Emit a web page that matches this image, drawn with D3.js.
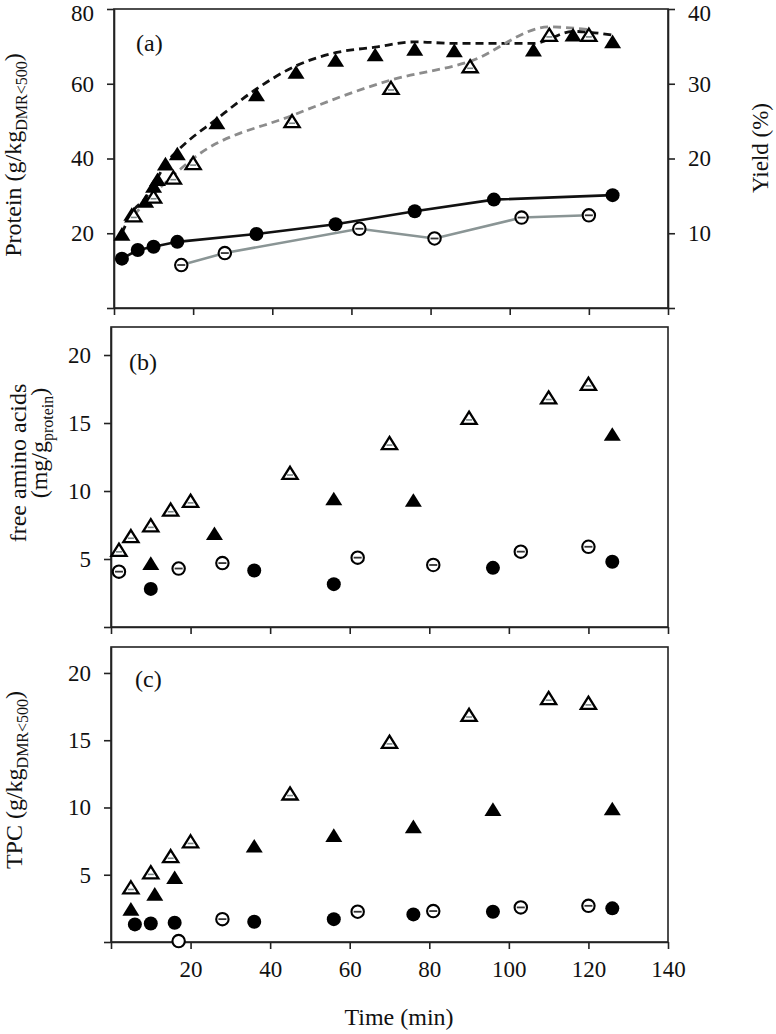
<!DOCTYPE html>
<html><head><meta charset="utf-8">
<script src="https://cdn.jsdelivr.net/npm/d3@7"></script>
<style>
body{margin:0;background:#fff;}
text{font-family:"Liberation Serif","Times New Roman",serif;fill:#111;}
</style></head><body>
<svg id="c" width="776" height="1034"></svg>
<script>
// ---------- DATA ----------
const xTicks = [0, 20, 40, 60, 80, 100, 120, 140];
const xTickLabels = ["", "20", "40", "60", "80", "100", "120", "140"];

// Panel (a) - protein (left axis) / yield
const aTriFilledT = [2, 4.5, 8, 10, 11, 13, 16, 26, 36, 46, 56, 66, 76, 86, 106, 116, 126];
const aTriFilledV = [19.5, 24.8, 28.3, 32.3, 34.1, 38.3, 41, 49.3, 56.8, 62.8, 66, 67.5, 69, 68.6, 68.8, 72.8, 71];
const aFitBlackV  = [20, 25.5, 29.5, 33, 34.8, 38.5, 42, 50.6, 58.6, 64.8, 68.3, 69.8, 71.2, 70.8, 70.8, 74, 73];
const aTriOpenT = [5, 10, 15, 20, 45, 70, 90, 110, 120];
const aTriOpenV = [24.5, 29.5, 34.6, 38.5, 49.7, 58.6, 64.4, 72.8, 72.8];
const aFitGreyV = [24.8, 30.5, 35.5, 40, 51.5, 61, 66, 75.2, 74.5];
const aCircFilledT = [2, 6, 10, 16, 36, 56, 76, 96, 126];
const aCircFilledV = [13.2, 15.5, 16.4, 17.7, 19.8, 22.4, 25.9, 29, 30.2];
const aCircOpenT = [17, 28, 62, 81, 103, 120];
const aCircOpenV = [11.5, 14.7, 21.2, 18.6, 24.2, 24.8];

// Panel (b) - free amino acids
const bTriOpenT = [2, 5, 10, 15, 20, 45, 70, 90, 110, 120];
const bTriOpenV = [5.6, 6.6, 7.4, 8.55, 9.2, 11.25, 13.45, 15.3, 16.8, 17.8];
const bTriFilledT = [10, 26, 56, 76, 126];
const bTriFilledV = [4.6, 6.8, 9.35, 9.25, 14.1];
const bCircFilledT = [10, 36, 56, 96, 126];
const bCircFilledV = [2.8, 4.15, 3.15, 4.35, 4.8];
const bCircOpenT = [2, 17, 28, 62, 81, 103, 120];
const bCircOpenV = [4.07, 4.3, 4.7, 5.1, 4.56, 5.54, 5.9];

// Panel (c) - TPC
const cTriOpenT = [5, 10, 15, 20, 45, 70, 90, 110, 120];
const cTriOpenV = [3.98, 5.1, 6.3, 7.4, 10.96, 14.8, 16.8, 18.05, 17.7];
const cTriFilledT = [5, 11, 16, 36, 56, 76, 96, 126];
const cTriFilledV = [2.37, 3.48, 4.72, 7.06, 7.85, 8.5, 9.78, 9.83];
const cCircFilledT = [6, 10, 16, 36, 56, 76, 96, 126];
const cCircFilledV = [1.31, 1.38, 1.43, 1.5, 1.7, 2.05, 2.25, 2.5];
const cCircOpenT = [17, 28, 62, 81, 103, 120];
const cCircOpenV = [0.07, 1.7, 2.25, 2.3, 2.57, 2.69];

const aYTicks = [0, 20, 40, 60, 80];
const aYieldTicks = [0, 10, 20, 30, 40];
const bcYTicks = [0, 5, 10, 15, 20];

// ---------- DRAW ----------
const svg = d3.select("#c");
const zip = (t, v) => t.map((d, i) => ({t: d, v: v[i]}));
const AX = "#222";
const GREY_LINE = "#8a9595";
const GREY_DASH = "#8c8c8c";

function hideZero(d) { return d === 0 ? "" : String(d); }

function styleAxis(a) {
  a.select(".domain").attr("stroke", AX).attr("stroke-width", 1.6);
  a.selectAll(".tick line").attr("stroke", AX).attr("stroke-width", 1.6);
  a.selectAll("text").attr("font-size", 23).attr("fill", "#111");
}

function panel(cfg) {
  const x = d3.scaleLinear().domain([0, 140]).range([cfg.left, cfg.right]);
  const y = d3.scaleLinear().domain(cfg.yDomain).range([cfg.bottom, cfg.top]);
  const g = svg.append("g");
  g.append("rect").attr("x", cfg.left).attr("y", cfg.top)
    .attr("width", cfg.right - cfg.left).attr("height", cfg.bottom - cfg.top)
    .attr("fill", "none").attr("stroke", AX).attr("stroke-width", 1.6);
  const xa = g.append("g").attr("transform", `translate(0,${cfg.bottom})`)
    .call(d3.axisBottom(x).tickValues(xTicks).tickSize(7).tickPadding(12).tickSizeOuter(0)
      .tickFormat((d, i) => cfg.xLabels ? xTickLabels[i] : ""));
  const ya = g.append("g").attr("transform", `translate(${cfg.left},0)`)
    .call(d3.axisLeft(y).tickValues(cfg.yTicks).tickSize(7).tickPadding(13).tickSizeOuter(0).tickFormat(hideZero));
  styleAxis(xa); styleAxis(ya);
  return {x, y, g, ya};
}

function triPath(s) { return `M0,${-s * 0.95}L${s},${s * 0.65}L${-s},${s * 0.65}Z`; }

function drawFilledTri(p, data) {
  p.g.append("g").selectAll("path").data(data).join("path")
    .attr("transform", d => `translate(${p.x(d.t)},${p.y(d.v)})`)
    .attr("d", triPath(8.5)).attr("fill", "#000");
}
function drawOpenTri(p, data) {
  const s = p.g.append("g").selectAll("g").data(data).join("g")
    .attr("transform", d => `translate(${p.x(d.t)},${p.y(d.v)})`);
  s.append("path").attr("d", triPath(7.6)).attr("fill", "#fff").attr("stroke", "#000").attr("stroke-width", 2.3);
  s.append("line").attr("x1", -3).attr("x2", 3).attr("y1", 1).attr("y2", 1)
    .attr("stroke", "#7a8585").attr("stroke-width", 1.6);
}
function drawFilledCirc(p, data) {
  p.g.append("g").selectAll("circle").data(data).join("circle")
    .attr("cx", d => p.x(d.t)).attr("cy", d => p.y(d.v)).attr("r", 7).attr("fill", "#000");
}
function drawOpenCirc(p, data) {
  const s = p.g.append("g").selectAll("g").data(data).join("g")
    .attr("transform", d => `translate(${p.x(d.t)},${p.y(d.v)})`);
  s.append("circle").attr("r", 6.2).attr("fill", "#fff").attr("stroke", "#000").attr("stroke-width", 2.1);
  s.filter(d => d.v > 0.5).append("line").attr("x1", -4).attr("x2", 4).attr("y1", 0).attr("y2", 0)
    .attr("stroke", "#333").attr("stroke-width", 1.8);
}
function drawLine(p, data, color, dash, width, curve) {
  const line = d3.line().x(d => p.x(d.t)).y(d => p.y(d.v)).curve(curve || d3.curveLinear);
  p.g.append("path").datum(data).attr("d", line).attr("fill", "none")
    .attr("stroke", color).attr("stroke-width", width).attr("stroke-dasharray", dash || null);
}

// Panel (a)
const pa = panel({left: 114, right: 668, top: 9, bottom: 308, yDomain: [0, 80], yTicks: aYTicks, xLabels: false});
const yYield = d3.scaleLinear().domain([0, 40]).range([308, 9]);
const ra = pa.g.append("g").attr("transform", "translate(668,0)")
  .call(d3.axisRight(yYield).tickValues(aYieldTicks).tickSize(7).tickPadding(13).tickSizeOuter(0).tickFormat(hideZero));
styleAxis(ra);
// keep the top tick labels inside the picture
pa.ya.selectAll(".tick text").filter(d => d === 80).attr("dy", "0.5em");
ra.selectAll(".tick text").filter(d => d === 40).attr("dy", "0.5em");

drawLine(pa, zip(aTriFilledT, aFitBlackV), "#111", "8,5", 2.8, d3.curveMonotoneX);
drawLine(pa, zip(aTriOpenT, aFitGreyV), GREY_DASH, "8,5", 2.8, d3.curveMonotoneX);
drawLine(pa, zip(aCircFilledT, aCircFilledV), "#111", null, 2.6);
drawLine(pa, zip(aCircOpenT, aCircOpenV), GREY_LINE, null, 2.6);
drawFilledCirc(pa, zip(aCircFilledT, aCircFilledV));
drawOpenCirc(pa, zip(aCircOpenT, aCircOpenV));
drawFilledTri(pa, zip(aTriFilledT, aTriFilledV));
drawOpenTri(pa, zip(aTriOpenT, aTriOpenV));

// Panel (b)
const pb = panel({left: 111, right: 668, top: 327, bottom: 627, yDomain: [0, 22.06], yTicks: bcYTicks, xLabels: false});
drawOpenTri(pb, zip(bTriOpenT, bTriOpenV));
drawFilledTri(pb, zip(bTriFilledT, bTriFilledV));
drawOpenCirc(pb, zip(bCircOpenT, bCircOpenV));
drawFilledCirc(pb, zip(bCircFilledT, bCircFilledV));

// Panel (c)
const pc = panel({left: 111, right: 668, top: 647, bottom: 942, yDomain: [0, 21.93], yTicks: bcYTicks, xLabels: true});
drawOpenTri(pc, zip(cTriOpenT, cTriOpenV));
drawFilledTri(pc, zip(cTriFilledT, cTriFilledV));
drawOpenCirc(pc, zip(cCircOpenT, cCircOpenV));
drawFilledCirc(pc, zip(cCircFilledT, cCircFilledV));

// Panel letters
[["(a)", 136, 51], ["(b)", 129, 370], ["(c)", 135, 687]].forEach(([t, x, y]) =>
  svg.append("text").attr("x", x).attr("y", y).attr("font-size", 24).text(t));

// Axis titles
function vLabel(x, y, parts, size) {
  const t = svg.append("text").attr("transform", `translate(${x},${y}) rotate(-90)`)
    .attr("text-anchor", "middle").attr("font-size", size || 24);
  parts.forEach(([s, sub]) => {
    const ts = t.append("tspan").text(s);
    if (sub === 1) ts.attr("font-size", 16).attr("dy", 6);
    if (sub === -1) ts.attr("dy", -6);
  });
}
vLabel(21, 155, [["Protein (g/kg"], ["DMR<500", 1], [")", -1]]);
vLabel(26, 463, [["free amino acids"]]);
vLabel(47, 443, [["(mg/g"], ["protein", 1], [")", -1]]);
vLabel(22, 780, [["TPC (g/kg"], ["DMR<500", 1], [")", -1]]);
vLabel(768, 148, [["Yield (%)"]], 23);

svg.append("text").attr("x", 399).attr("y", 1025).attr("text-anchor", "middle").attr("font-size", 24).text("Time (min)");
</script>
</body></html>
